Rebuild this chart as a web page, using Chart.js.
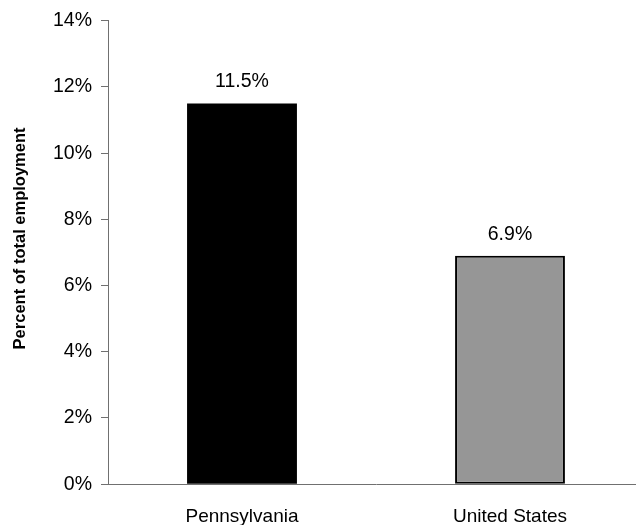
<!DOCTYPE html>
<html>
<head>
<meta charset="utf-8">
<script src="https://cdn.jsdelivr.net/npm/chart.js@4"></script>
<style>
  html, body { margin: 0; padding: 0; background: #fff; overflow: hidden; }
  #wrap { position: relative; width: 644px; height: 549px; }
</style>
</head>
<body>
<div id="wrap"><canvas id="myChart"></canvas></div>
<script>
const categories = ["Pennsylvania", "United States"];
const shares = [11.5, 6.9];
const barColors = ["#000000", "#969696"];
const yTicks = [0, 2, 4, 6, 8, 10, 12, 14];
const yTitle = "Percent of total employment";

const FONT = "'Liberation Sans', Arial, sans-serif";

// labels over the bars
const valueLabels = {
  id: "valueLabels",
  afterDatasetsDraw(chart) {
    const ctx = chart.ctx;
    const meta = chart.getDatasetMeta(0);
    ctx.save();
    ctx.font = "19.5px " + FONT;
    ctx.fillStyle = "#000";
    ctx.textAlign = "center";
    ctx.textBaseline = "alphabetic";
    meta.data.forEach((bar, i) => {
      ctx.fillText(shares[i].toFixed(1) + "%", bar.x, bar.y - 16);
    });
    ctx.restore();
  }
};

// y title sits a bit above the middle of the axis, like the original
const axisTitle = {
  id: "axisTitle",
  afterDraw(chart) {
    const ctx = chart.ctx;
    const area = chart.chartArea;
    ctx.save();
    ctx.translate(20, (area.top + area.bottom) / 2 - 14);
    ctx.rotate(-Math.PI / 2);
    ctx.font = "bold 16.5px " + FONT;
    ctx.fillStyle = "#000";
    ctx.textAlign = "center";
    ctx.textBaseline = "middle";
    ctx.fillText(yTitle, 0, 0);
    ctx.restore();
  }
};

var ctx = document.getElementById("myChart").getContext("2d");
var myChart = new Chart(ctx, {
  type: "bar",
  data: {
    labels: categories,
    datasets: [
      {
        data: shares,
        backgroundColor: barColors,
        borderColor: "#000000",
        borderWidth: [0, 2],
        borderSkipped: false,
        barPercentage: 0.41,
        categoryPercentage: 1.0,
      },
    ],
  },
  options: {
    responsive: true,
    maintainAspectRatio: false,
    animation: false,
    layout: { padding: { top: 20, right: 0, bottom: 0, left: 0 } },
    plugins: {
      legend: { display: false },
      tooltip: { enabled: false },
    },
    scales: {
      x: {
        grid: { display: false, drawTicks: false },
        border: { display: true, color: "#707070", width: 1 },
        ticks: {
          padding: 21,
          color: "#000",
          font: { family: FONT, size: 19 },
        },
      },
      y: {
        min: 0,
        max: 14,
        afterBuildTicks(scale) {
          scale.ticks = yTicks.map((v) => ({ value: v }));
        },
        afterFit(scale) {
          scale.width = 108;
        },
        grid: {
          drawOnChartArea: false,
          drawTicks: true,
          tickLength: 7,
          color: "#707070",
        },
        border: { display: true, color: "#707070", width: 1 },
        ticks: {
          padding: 9,
          color: "#000",
          font: { family: FONT, size: 19.5 },
          callback: (v) => v + "%",
        },
      },
    },
  },
  plugins: [valueLabels, axisTitle],
});
</script>
</body>
</html>
